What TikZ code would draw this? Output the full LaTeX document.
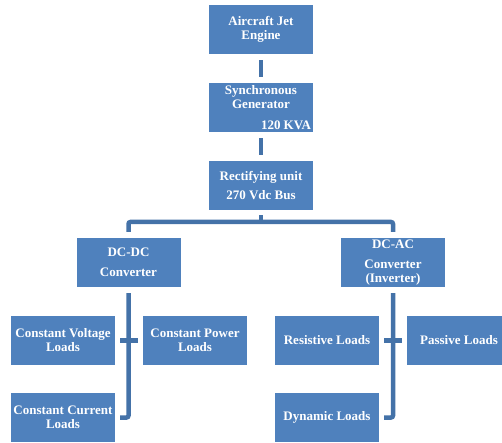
\documentclass[tikz,border=0pt]{standalone}
\usepackage{fontspec}
\setmainfont{Liberation Serif}

\definecolor{boxblue}{HTML}{4F81BD}
\definecolor{linkblue}{HTML}{4472A8}

\begin{document}
\begin{tikzpicture}[x=1pt,y=-1pt,
        block/.style={fill=boxblue,text=white,font=\bfseries\fontsize{13}{14}\selectfont,
            minimum width=104pt,minimum height=49pt,inner sep=1pt,align=center},
        link/.style={draw=linkblue,line width=4.5pt,rounded corners=2pt}]

        % Frame
        \useasboundingbox (0,0) rectangle (502,443);

        % Supply chain
        \node[block] (engine) at (261,29.5) {Aircraft Jet\\Engine};
        \node[block] (gen) at (261,107.5) {Synchronous\\Generator\\[7pt]\makebox[0pt][l]{120 KVA}};
        \node[block] (rect) at (261,185.5) {Rectifying unit\\[5pt]270 Vdc Bus};

        \draw[link,shorten <=6pt,shorten >=6pt] (engine) -- (gen);
        \draw[link,shorten <=6pt,shorten >=6pt] (gen) -- (rect);

        % Converters
        \node[block] (dcdc) at (128.5,262.5) {DC-DC\\[6pt]Converter};
        \node[block] (dcac) at (393,262.5) {DC-AC\\[6pt]Converter\\(Inverter)};

        % Bus
        \coordinate (busL) at (128.5,222);
        \coordinate (busR) at (393,222);
        \draw[link,shorten <=5pt] (rect.south) -- (rect.south |- busL);
        \draw[link,shorten <=6pt,shorten >=6pt] (dcdc.north) -- (busL) -- (busR) -- (dcac.north);

        % DC loads
        \node[block] (cv) at (63,340.5) {Constant Voltage\\Loads};
        \node[block] (cp) at (195,340.5) {Constant Power\\Loads};
        \node[block] (cc) at (63,417.5) {Constant Current\\Loads};

        \draw[link,shorten <=6pt,shorten >=5pt] (dcdc.south) -- (dcdc.south |- cc.east) -- (cc.east);
        \draw[link,shorten <=5pt,shorten >=5pt] (cv.east) -- (cp.west);

        % AC loads
        \node[block] (res) at (327,340.5) {Resistive Loads};
        \node[block] (pas) at (459,340.5) {Passive Loads};
        \node[block] (dyn) at (327,417.5) {Dynamic Loads};

        \draw[link,shorten <=6pt,shorten >=5pt] (dcac.south) -- (dcac.south |- dyn.east) -- (dyn.east);
        \draw[link,shorten <=5pt,shorten >=5pt] (res.east) -- (pas.west);

    \end{tikzpicture}
\end{document}
